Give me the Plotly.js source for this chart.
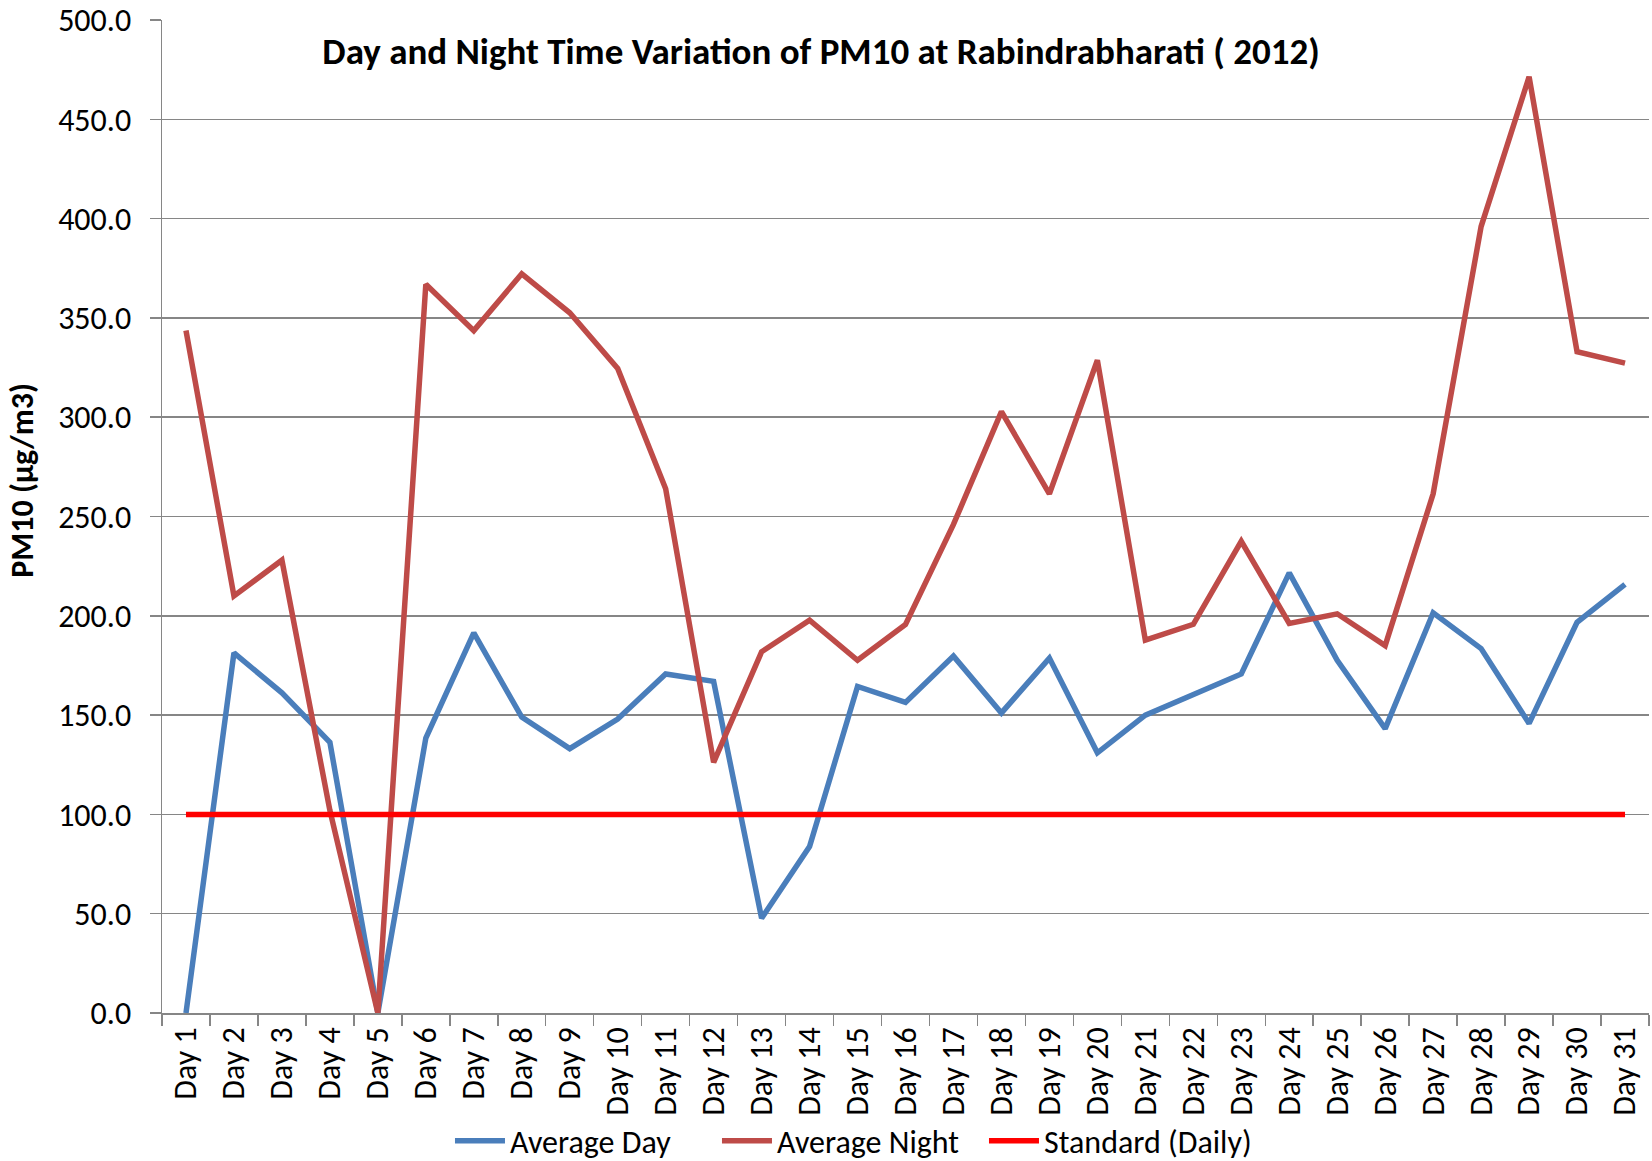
<!DOCTYPE html>
<html>
<head>
<meta charset="utf-8">
<script src="https://cdn.plot.ly/plotly-3.0.1.min.js"></script>
<style>html,body{margin:0;padding:0;background:#fff;}#chart{width:1652px;height:1161px;}</style>
</head>
<body>
<div id="chart"></div>
<script>
const days = ["Day 1","Day 2","Day 3","Day 4","Day 5","Day 6","Day 7","Day 8","Day 9","Day 10",
  "Day 11","Day 12","Day 13","Day 14","Day 15","Day 16","Day 17","Day 18","Day 19","Day 20",
  "Day 21","Day 22","Day 23","Day 24","Day 25","Day 26","Day 27","Day 28","Day 29","Day 30","Day 31"];
const averageDay = [0,181.3,161.2,136.3,0,138.4,191.4,149,133.1,148,
  170.7,167,47.7,83.8,164.4,156.4,179.7,151.1,178.7,131,
  150,160.1,170.7,221.6,177.6,143.2,201.5,183.5,145.8,196.7,215.8];
const averageNight = [343.6,210,228,102,0,366.9,343.6,372.2,352.6,324.5,
  264,126.2,181.9,197.8,177.6,195.7,246,302.8,261.4,328.7,
  187.7,195.7,237.5,196.2,201,185,261.4,396,471.4,333,327.2];
const standardDaily = [100,100,100,100,100,100,100,100,100,100,
  100,100,100,100,100,100,100,100,100,100,
  100,100,100,100,100,100,100,100,100,100,100];
const yTicks = [0,50,100,150,200,250,300,350,400,450,500];
const yTitle = "<b>PM10 (µg/m3)</b>";

const FONT = "Carlito, Lato, 'Open Sans', sans-serif";
const traces = [
  {x: days, y: averageDay, name: "Average Day", type: "scatter", mode: "lines",
   line: {color: "#4A7EBB", width: 5.5}},
  {x: days, y: averageNight, name: "Average Night", type: "scatter", mode: "lines",
   line: {color: "#BE4B48", width: 5.5}},
  {x: days, y: standardDaily, name: "Standard (Daily)", type: "scatter", mode: "lines",
   line: {color: "#FF0000", width: 5.5}}
];
const layout = {
  width: 1652, height: 1161,
  margin: {l: 162, r: 3, t: 20, b: 148},
  paper_bgcolor: "#fff", plot_bgcolor: "#fff",
  font: {family: FONT, color: "#000", size: 32},
  title: {text: "<b>Day and Night Time Variation of PM10 at Rabindrabharati ( 2012)</b>",
    font: {family: FONT, size: 37, color: "#000"},
    xref: "container", yref: "container", x: 0.497, xanchor: "center", y: 0.956, yanchor: "middle"},
  xaxis: {type: "category", range: [-0.5, 30.5], tickangle: -90, tickson: "boundaries", ticks: "outside", ticklen: 11,
    tickcolor: "#868686", tickwidth: 1.5, showline: true, linecolor: "#868686", linewidth: 1.5,
    showgrid: false, zeroline: false, tickfont: {family: FONT, size: 32}, automargin: false},
  yaxis: {range: [0, 500], tickvals: yTicks, tickformat: ".1f", ticks: "outside", ticklen: 11,
    tickcolor: "#868686", tickwidth: 1.5, showline: true, linecolor: "#868686", linewidth: 1.5,
    showgrid: true, gridcolor: "#868686", gridwidth: 1.5, zeroline: false, ticklabelstandoff: 12,
    tickfont: {family: FONT, size: 32}, automargin: false},
  annotations: [{text: yTitle, textangle: -90, xref: "paper", yref: "paper", x: 0, xanchor: "center",
    xshift: -139, y: 0.536, yanchor: "middle", showarrow: false, font: {family: FONT, size: 32, color: "#000"}}],
  showlegend: true,
  legend: {orientation: "h", xref: "paper", x: 0.463, xanchor: "center", yref: "container", y: 0.0172, yanchor: "middle",
    font: {family: FONT, size: 32}, bgcolor: "rgba(0,0,0,0)", itemwidth: 50, tracegroupgap: 0,
    entrywidthmode: "pixels", entrywidth: 202}
};
Plotly.newPlot("chart", traces, layout, {displayModeBar: false, staticPlot: true});
</script>
</body>
</html>
